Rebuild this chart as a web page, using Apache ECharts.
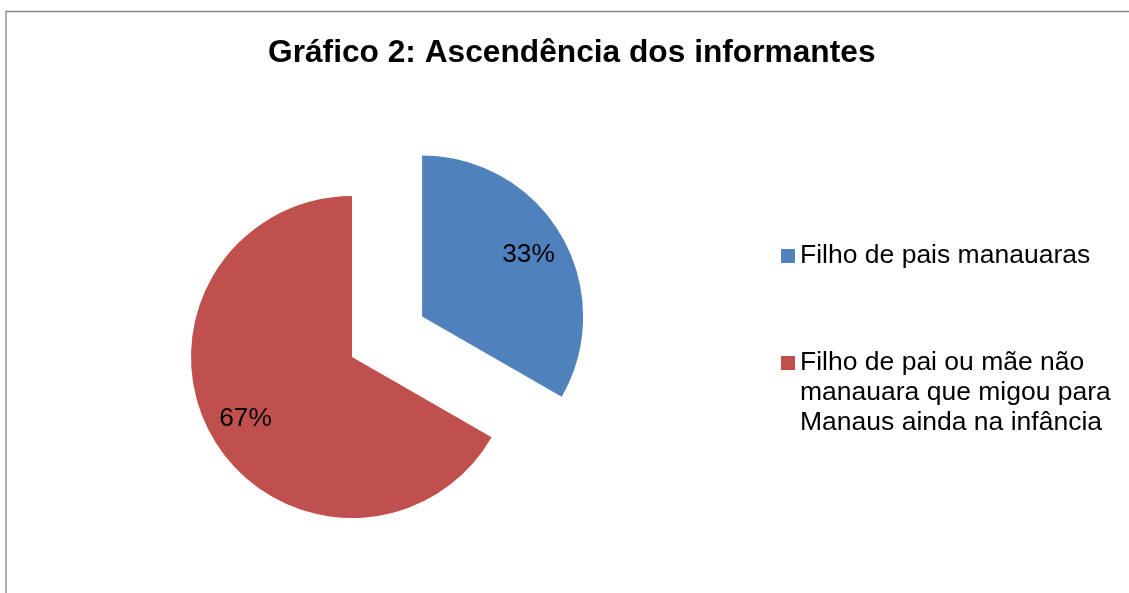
<!DOCTYPE html>
<html>
<head>
<meta charset="utf-8">
<script src="https://cdn.jsdelivr.net/npm/echarts@6/dist/echarts.min.js"></script>
<style>
html,body{margin:0;padding:0;background:#fff;}
#chart{width:1129px;height:593px;}
</style>
</head>
<body>
<div id="chart"></div>
<script>
var titleText = 'Gráfico 2: Ascendência dos informantes';
var categories = ['Filho de pais manauaras', 'Filho de pai ou mãe não\nmanauara que migou para\nManaus ainda na infância'];
var shares = [33.3, 66.7];
var colors = ['#4F81BD', '#C0504D'];
var exploded = [true, false];

var FONT = '"Liberation Sans", Arial, sans-serif';

function buildData(transparent) {
  return categories.map(function (c, i) {
    return {
      name: c,
      value: shares[i],
      selected: exploded[i],
      itemStyle: { color: transparent ? 'rgba(0,0,0,0)' : colors[i] }
    };
  });
}

// Keep the legend marker aligned with the first line of a multi-line entry
function legendFormatter(name) {
  var extra = name.split('\n').length - 1;
  var pad = '';
  for (var k = 0; k < extra; k++) pad += '\n';
  return pad + name;
}

var chart = echarts.init(document.getElementById('chart'), null, { renderer: 'canvas' });
var legendCommon = {
  orient: 'vertical',
  left: 781,
  padding: 0,
  icon: 'rect',
  itemWidth: 14,
  itemHeight: 14,
  selectedMode: false,
  formatter: legendFormatter,
  textStyle: { fontFamily: FONT, fontSize: 26.5, color: '#000', lineHeight: 30 }
};
var option = {
  animation: false,
  backgroundColor: '#ffffff',
  title: {
    text: titleText,
    left: 268,
    top: 35,
    padding: 0,
    textStyle: { fontFamily: FONT, fontSize: 31.7, fontWeight: 'bold', color: '#000', lineHeight: 36 }
  },
  graphic: [{
    type: 'rect',
    shape: { x: 6, y: 11.5, width: 1300, height: 800 },
    style: { fill: 'none', stroke: '#878787', lineWidth: 1.3 },
    silent: true
  }],
  legend: [
    Object.assign({}, legendCommon, { top: 241, data: [categories[0]] }),
    Object.assign({}, legendCommon, { top: 288, data: [categories[1]] })
  ],
  series: [{
    type: 'pie',
    center: [352, 357],
    radius: [0, 161],
    startAngle: 90,
    clockwise: true,
    selectedMode: 'multiple',
    selectedOffset: 81,
    avoidLabelOverlap: false,
    label: { show: false },
    labelLine: { show: false },
    emphasis: { disabled: true, scale: false },
    select: { itemStyle: { borderWidth: 0 } },
    itemStyle: { borderWidth: 0 },
    data: buildData(false)
  }, {
    type: 'pie',
    center: [352, 357],
    radius: [0, 240],
    startAngle: 90,
    clockwise: true,
    silent: true,
    selectedMode: 'multiple',
    selectedOffset: 81,
    avoidLabelOverlap: false,
    z: 5,
    label: {
      show: true,
      position: 'inside',
      fontFamily: FONT,
      fontSize: 26.3,
      color: '#000',
      formatter: function (p) { return Math.round(p.percent) + '%'; }
    },
    labelLine: { show: false },
    emphasis: { disabled: true, scale: false },
    itemStyle: { borderWidth: 0 },
    data: buildData(true)
  }]
};
chart.setOption(option);
</script>
</body>
</html>
